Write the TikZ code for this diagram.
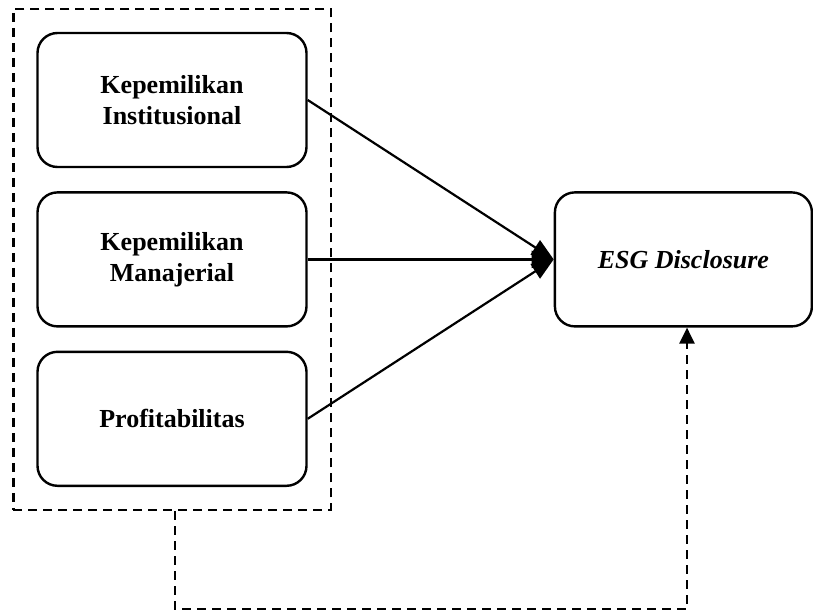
\documentclass[tikz,border=0pt]{standalone}
\usepackage{fontspec}
\setmainfont{Liberation Serif}
\usepackage{tikz}
\usetikzlibrary{arrows.meta,positioning,fit,calc}

\begin{document}
\begin{tikzpicture}[x=1pt, y=-1pt,
    varbox/.style={rectangle, draw, line width=2.4pt, rounded corners=20pt, minimum width=269pt, minimum height=134pt, align=center, font=\fontsize{26}{31}\selectfont\bfseries},
    dashline/.style={line width=2.4pt, dash pattern=on 9pt off 6pt},
    link/.style={line width=2.2pt, -{Triangle[length=22pt,width=17pt]}}]
    \useasboundingbox (0,0) rectangle (813,615);
    \node (inst) [varbox] at (172,100) {Kepemilikan\\Institusional};
    \node (mana) [varbox, below=23pt of inst] {Kepemilikan\\Manajerial};
    \node (prof) [varbox, below=23pt of mana] {Profitabilitas};
    \node (esg) [varbox, right=246pt of mana, minimum width=257pt, font=\fontsize{26}{31}\selectfont\bfseries\itshape] {ESG Disclosure};

    \node (group) [draw, dashline, inner sep=23pt, fit=(inst) (prof)] {};

    \draw [link] (inst.east) -- (esg.west);
    \draw [link] (mana.east) -- (esg.west);
    \draw [link] (prof.east) -- (esg.west);

    \coordinate (down) at (175,609);
    \coordinate (turn) at (687,609);
    \draw [dashline, -{Triangle[length=16pt,width=15pt]}] (group.south -| down) -- (down) -- (turn) -- (turn |- esg.south);
\end{tikzpicture}
\end{document}
